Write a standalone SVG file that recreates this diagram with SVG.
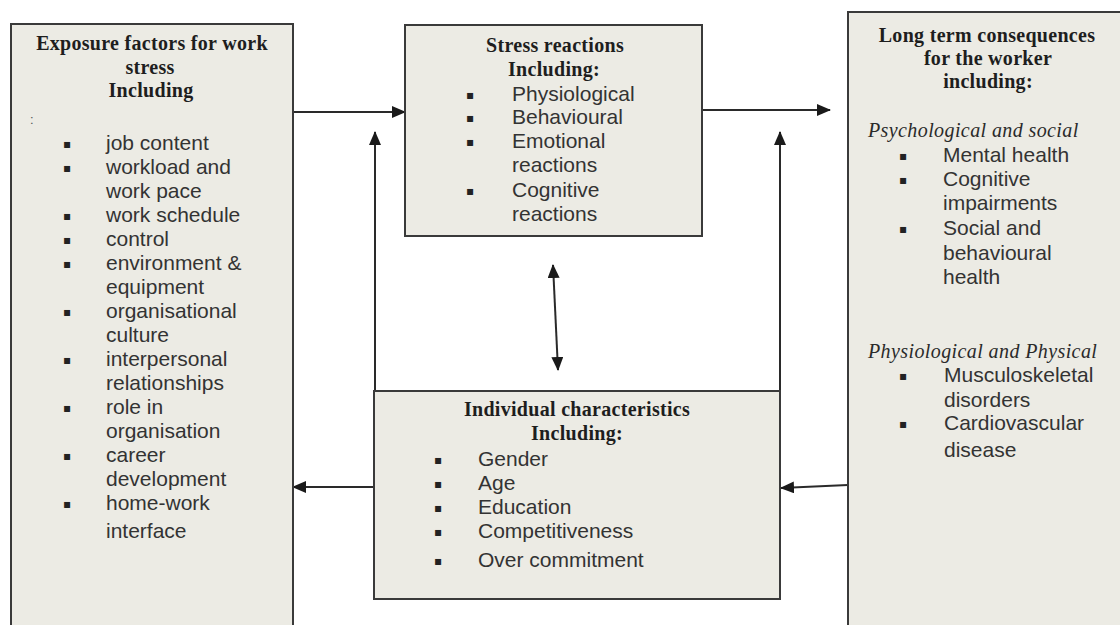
<svg xmlns="http://www.w3.org/2000/svg" width="1120" height="625" viewBox="0 0 1120 625">
<style>
.box{fill:#ecebe4;stroke:#3a3a3a;stroke-width:2}
.h{font-family:"Liberation Serif","Times New Roman",serif;font-weight:bold;font-size:20px;fill:#1e1e1e;text-anchor:middle;letter-spacing:0.3px}
.it{font-family:"Liberation Serif","Times New Roman",serif;font-style:italic;font-size:20px;fill:#2a2a2a;letter-spacing:0.4px}
.t{font-family:"Liberation Sans",Arial,sans-serif;font-size:21px;fill:#333}
.b{font-family:"DejaVu Sans","Liberation Sans",sans-serif;font-size:12px;fill:#222;text-anchor:middle}
.c{stroke:#2a2a2a;stroke-width:2;fill:none}
</style>
<defs>
<marker id="ah" markerUnits="userSpaceOnUse" markerWidth="14" markerHeight="12" refX="13" refY="6" orient="auto-start-reverse">
<path d="M0,0 L14,6 L0,12 Z" fill="#1a1a1a"/>
</marker>
</defs>
<rect width="1120" height="625" fill="#ffffff"/>

<g id="connectors">
<line class="c" x1="293" y1="112" x2="405" y2="112" marker-end="url(#ah)"/>
<line class="c" x1="702" y1="110" x2="830" y2="110" marker-end="url(#ah)"/>
<line class="c" x1="375" y1="391" x2="375" y2="132" marker-end="url(#ah)"/>
<line class="c" x1="780" y1="391" x2="780" y2="132" marker-end="url(#ah)"/>
<line class="c" x1="553" y1="265" x2="558" y2="370" marker-start="url(#ah)" marker-end="url(#ah)"/>
<line class="c" x1="374" y1="487" x2="293" y2="487" marker-end="url(#ah)"/>
<line class="c" x1="848" y1="485" x2="781" y2="488" marker-end="url(#ah)"/>
</g>

<g id="exposure">
<rect class="box" x="11" y="24" width="282" height="620"/>
<text class="h" x="152" y="50">Exposure factors for work</text>
<text class="h" x="150" y="74">stress</text>
<text class="h" x="151" y="97">Including</text>
<text x="30" y="124" style="font-family:'Liberation Sans',sans-serif;font-size:13px;fill:#555">:</text>
<g class="b">
<text x="67" y="148">▪</text><text x="67" y="172">▪</text><text x="67" y="220">▪</text><text x="67" y="244">▪</text><text x="67" y="268">▪</text><text x="67" y="316">▪</text><text x="67" y="364">▪</text><text x="67" y="412">▪</text><text x="67" y="460">▪</text><text x="67" y="508">▪</text>
</g>
<g class="t">
<text x="106" y="150">job content</text>
<text x="106" y="174">workload and</text>
<text x="106" y="198">work pace</text>
<text x="106" y="222">work schedule</text>
<text x="106" y="246">control</text>
<text x="106" y="270">environment &amp;</text>
<text x="106" y="294">equipment</text>
<text x="106" y="318">organisational</text>
<text x="106" y="342">culture</text>
<text x="106" y="366">interpersonal</text>
<text x="106" y="390">relationships</text>
<text x="106" y="414">role in</text>
<text x="106" y="438">organisation</text>
<text x="106" y="462">career</text>
<text x="106" y="486">development</text>
<text x="106" y="510">home-work</text>
<text x="106" y="538">interface</text>
</g>
</g>

<g id="stress">
<rect class="box" x="405" y="25" width="297" height="211"/>
<text class="h" x="555" y="52">Stress reactions</text>
<text class="h" x="554" y="76">Including:</text>
<g class="b">
<text x="470" y="99">▪</text><text x="470" y="122">▪</text><text x="470" y="146">▪</text><text x="470" y="195">▪</text>
</g>
<g class="t">
<text x="512" y="101">Physiological</text>
<text x="512" y="124">Behavioural</text>
<text x="512" y="148">Emotional</text>
<text x="512" y="172">reactions</text>
<text x="512" y="197">Cognitive</text>
<text x="512" y="221">reactions</text>
</g>
</g>

<g id="consequences">
<rect class="box" x="848" y="12" width="290" height="640"/>
<text class="h" x="987" y="42">Long term consequences</text>
<text class="h" x="988" y="65">for the worker</text>
<text class="h" x="988" y="88">including:</text>
<text class="it" x="868" y="137">Psychological and social</text>
<g class="b">
<text x="903" y="160">▪</text><text x="903" y="184">▪</text><text x="903" y="233">▪</text>
<text x="903" y="380">▪</text><text x="903" y="428">▪</text>
</g>
<g class="t">
<text x="943" y="162">Mental health</text>
<text x="943" y="186">Cognitive</text>
<text x="943" y="210">impairments</text>
<text x="943" y="235">Social and</text>
<text x="943" y="260">behavioural</text>
<text x="943" y="284">health</text>
</g>
<text class="it" x="868" y="358">Physiological and Physical</text>
<g class="t">
<text x="944" y="382">Musculoskeletal</text>
<text x="944" y="407">disorders</text>
<text x="944" y="430">Cardiovascular</text>
<text x="944" y="457">disease</text>
</g>
</g>

<g id="individual">
<rect class="box" x="374" y="391" width="406" height="208"/>
<text class="h" x="577" y="416">Individual characteristics</text>
<text class="h" x="577" y="440">Including:</text>
<g class="b">
<text x="438" y="464">▪</text><text x="438" y="488">▪</text><text x="438" y="512">▪</text><text x="438" y="536">▪</text><text x="438" y="565">▪</text>
</g>
<g class="t">
<text x="478" y="466">Gender</text>
<text x="478" y="490">Age</text>
<text x="478" y="514">Education</text>
<text x="478" y="538">Competitiveness</text>
<text x="478" y="567">Over commitment</text>
</g>
</g>
</svg>
